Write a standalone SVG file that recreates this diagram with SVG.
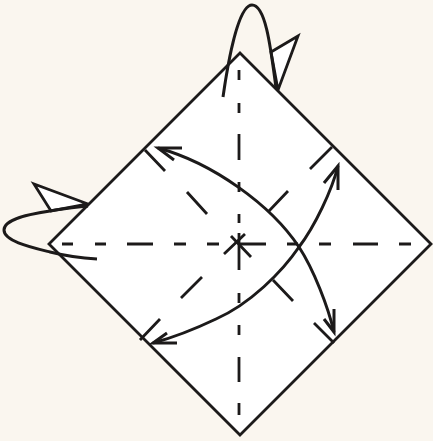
<svg xmlns="http://www.w3.org/2000/svg" width="433" height="441" viewBox="0 0 433 441">
<style>
.l{fill:none;stroke:#1c1a1a;stroke-width:2.8}
.c{fill:none;stroke:#1c1a1a;stroke-width:3}
.s{fill:#fff;stroke:#1c1a1a;stroke-width:2.8;stroke-linejoin:miter}
</style>
<rect width="433" height="441" fill="#faf6ef"/>
<g id="flap-top"><path class="s" d="M271 52L298 36L278 90Z"/></g>
<g id="flap-left"><path class="s" d="M88 204L34 184L51 211Z"/></g>
<g id="sheet"><path class="s" d="M240 53L431 244L240 435L49 244Z"/></g>
<g id="creases" class="l">
<path d="M239 70V80M239 103V113M239 134V160M239 182V192M239 214V223M239 233V270M239 293V303M239 325V335M239 357V382M239 403V415"/>
<path d="M62 244H73M95 244H106M127 244H153M174 244H186M207 244H219M239 244H266M287 244H298M319 244H331M353 244H378M399 244H411"/>
<path d="M145 150L165 171M187 192L207 214M231 236L251 257M273 280L293 301M314 323L334 343"/>
<path d="M332 147L310 169M288 191L269 211M245 234L224 254M202 277L181 298M160 319L140 340"/>
</g>
<g id="connectors">
<path class="c" d="M158 148C213 163 271 205 299 247C314 270 328 307 334 332"/>
<path class="c" d="M338 166C332 190 315 226 299 247C282 272 250 304 216 319C195 329 175 337 153 343"/>
<path class="c" d="M182 148H158L174 160M334 309V332L324 319M338 190V166L324 183M177 343H153L167 333"/>
<path class="c" d="M223 97C228 62 238 5 252 5C266 5 271 50 276 88"/>
<path class="c" d="M88 206C70 208 60 209 50 211C30 214 4 219 4 230C4 241 30 247 50 252C62 255 80 258 97 259"/>
</g>
</svg>
